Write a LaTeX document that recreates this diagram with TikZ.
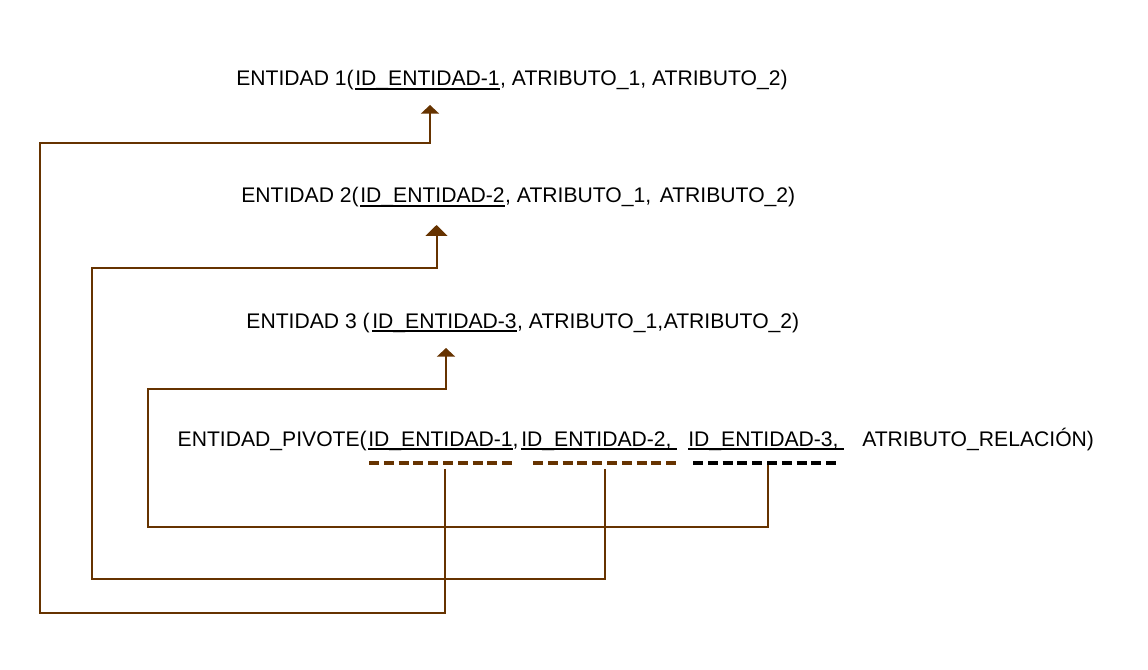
\documentclass[tikz,border=0pt]{standalone}
\usepackage{fontspec}
\setmainfont{Liberation Sans}
\usetikzlibrary{arrows.meta}
\definecolor{brn}{HTML}{663300}
\newcommand\fs{\fontsize{15.85pt}{19pt}\selectfont}
\newcommand\myul[1]{\setbox0\hbox{#1}\rlap{\rule[-0.2em]{\wd0}{0.09em}}\box0}
\tikzset{
  txt/.style={anchor=base west, inner sep=0pt, font=\fs},
  txtr/.style={anchor=base east, inner sep=0pt, font=\fs},
  conn/.style={draw=brn, line width=1.5pt},
  dashrow/.style={line width=2.6pt, dash pattern=on 7.5pt off 3.6pt},
}
\begin{document}
\begin{tikzpicture}[x=0.75pt,y=-0.75pt]
\useasboundingbox (0,0) rectangle (1148,670);
% line 1
\node[txt] (id1) at (355,86) {\myul{ID\_ENTIDAD-1}};
\node[txtr] (e1) at (354,86) {ENTIDAD 1(};
\node[txt] (r1) at (id1.base east) {, ATRIBUTO\_1, ATRIBUTO\_2)};
% line 2
\node[txt] (id2) at (360,203) {\myul{ID\_ENTIDAD-2}};
\node[txtr] (e2) at (359,203) {ENTIDAD 2(};
\node[txt] (r2a) at (id2.base east) {, ATRIBUTO\_1,};
\node[txt, xshift=6pt] (r2b) at (r2a.base east) {ATRIBUTO\_2)};
% line 3
\node[txt] (id3) at (372,328) {\myul{ID\_ENTIDAD-3}};
\node[txtr] (e3) at (370,328) {ENTIDAD 3 (};
\node[txt] (r3a) at (id3.base east) {, ATRIBUTO\_1,};
\node[txt] (r3b) at (r3a.base east) {ATRIBUTO\_2)};
% line 4
\node[txt] (p1) at (368,446) {\myul{ID\_ENTIDAD-1},};
\node[txtr] (ep) at (367,446) {ENTIDAD\_PIVOTE(};
\node[txt] (p2) at (521,446) {\myul{ID\_ENTIDAD-2,\ }};
\node[txt] (p3) at (688,446) {\myul{ID\_ENTIDAD-3,\ }};
\node[txt] (pr) at (862,446) {ATRIBUTO\_RELACIÓN)};
% dashed rows
\coordinate (d1a) at (369,463); \coordinate (d1b) at (517,463);
\coordinate (d2a) at (533,463); \coordinate (d2b) at (680,463);
\coordinate (d3a) at (693,463); \coordinate (d3b) at (840,463);
\draw[dashrow, brn] (d1a) -- (d1b);
\draw[dashrow, brn] (d2a) -- (d2b);
\draw[dashrow, black] (d3a) -- (d3b);
% connectors
\coordinate (s1) at (445,469); \coordinate (k1) at (40,613);
\coordinate (h1) at (430,143); \coordinate (a1) at (430,105);
\coordinate (s2) at (604.5,469); \coordinate (k2) at (92,578.5);
\coordinate (h2) at (436.5,267.5); \coordinate (a2) at (436.5,225);
\coordinate (s3) at (767.5,465); \coordinate (k3) at (148,527);
\coordinate (h3) at (446,389); \coordinate (a3) at (446,348);
\draw[conn, -{Triangle[width=13.5pt,length=6.5pt]}] (s1) |- (k1) |- (h1) -- (a1);
\draw[conn, -{Triangle[width=16.5pt,length=8.25pt]}] (s2) |- (k2) |- (h2) -- (a2);
\draw[conn, -{Triangle[width=13.5pt,length=6.5pt]}] (s3) |- (k3) |- (h3) -- (a3);
\end{tikzpicture}
\end{document}
